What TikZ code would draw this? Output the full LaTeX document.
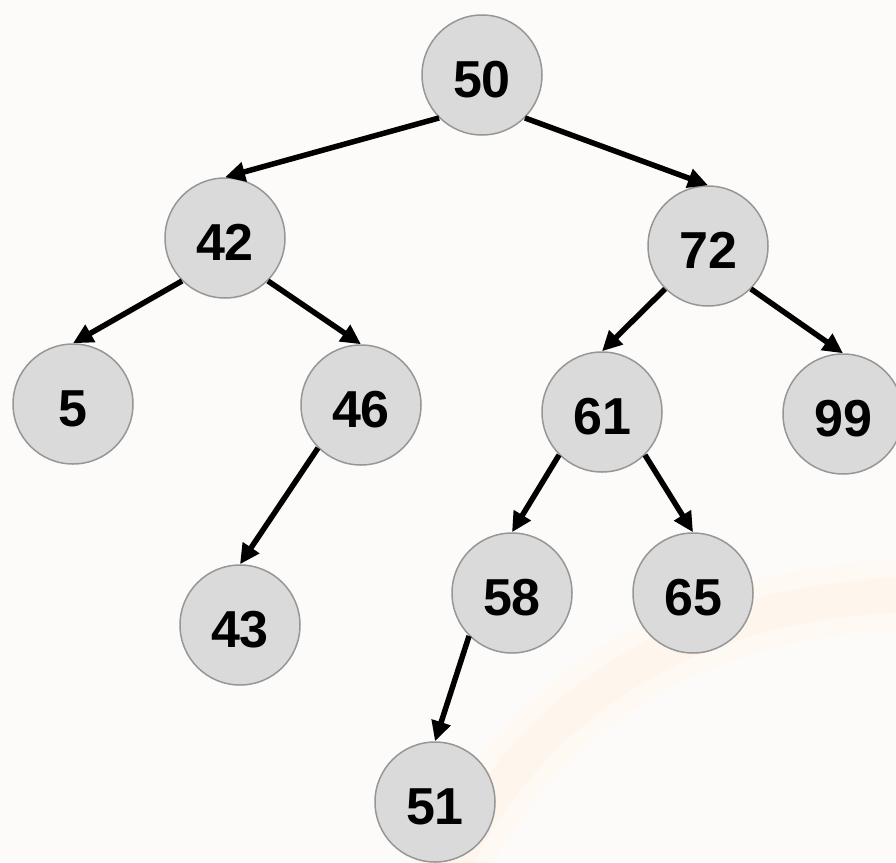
\documentclass[tikz,border=0pt]{standalone}
\usepackage{fontspec}
\setmainfont{Liberation Sans}
\usetikzlibrary{arrows.meta}
\definecolor{bgc}{RGB}{253,251,249}
\definecolor{nodefill}{RGB}{218,218,218}
\definecolor{nodeedge}{RGB}{150,150,150}
\definecolor{wma}{RGB}{254,249,242}
\definecolor{wmb}{RGB}{254,246,236}
\newcommand\numtxt[1]{\raisebox{-22.5pt}[0pt][0pt]{#1}}
\tikzset{
  treenode/.style={circle, draw=nodeedge, fill=nodefill, line width=1.5pt,
    minimum size=120pt, inner sep=0pt, font=\fontsize{52}{52}\selectfont\bfseries},
  arr/.style={line width=5.5pt, -{Triangle[length=20pt,width=19pt]}}
}
\begin{document}
\begin{tikzpicture}[x=1pt,y=-1pt]
\fill[bgc] (0,0) rectangle (896,862);
\useasboundingbox (0,0) rectangle (896,862);
% faint watermark arc
\draw[wma, line width=70pt] (445,880) .. controls (525,710) and (680,600) .. (910,595);
\draw[wmb, line width=35pt] (445,880) .. controls (525,710) and (680,600) .. (910,595);
% nodes
\node[treenode] (n50) at (482,75) {\numtxt{50}};
\node[treenode] (n42) at (225,238) {\numtxt{42}};
\node[treenode] (n72) at (708,246) {\numtxt{72}};
\node[treenode] (n5)  at (73,404) {\numtxt{5}};
\node[treenode] (n46) at (361,405) {\numtxt{46}};
\node[treenode] (n61) at (602,412) {\numtxt{61}};
\node[treenode] (n99) at (843,414) {\numtxt{99}};
\node[treenode] (n43) at (240,625) {\numtxt{43}};
\node[treenode] (n58) at (512,593) {\numtxt{58}};
\node[treenode] (n65) at (693,593) {\numtxt{65}};
\node[treenode] (n51) at (435,802) {\numtxt{51}};
% edges
\draw[arr] (n50.south west) -- (n42.north);
\draw[arr] (n50.south east) -- (n72.north);
\draw[arr] (n42.south west) -- (n5.north);
\draw[arr] (n42.south east) -- (n46.north);
\draw[arr] (n72.south west) -- (n61.north);
\draw[arr] (n72.south east) -- (n99.north);
\draw[arr] (n46.south west) -- (n43.north);
\draw[arr] (n61.south west) -- (n58.north);
\draw[arr] (n61.south east) -- (n65.north);
\draw[arr] (n58.south west) -- (n51.north);
\end{tikzpicture}
\end{document}
